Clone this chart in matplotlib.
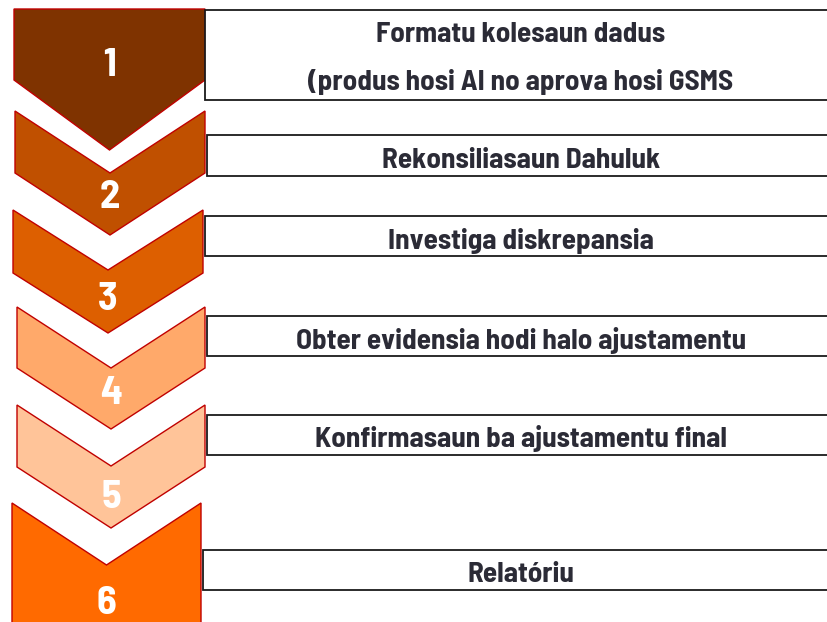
import matplotlib
matplotlib.use("Agg")
import matplotlib.pyplot as plt
from matplotlib.patches import Polygon, Rectangle

# step data
step_numbers = ["1", "2", "3", "4", "5", "6"]
step_texts = [
    "Formatu kolesaun dadus\n(produs hosi AI no aprova hosi GSMS",
    "Rekonsiliasaun Dahuluk",
    "Investiga diskrepansia",
    "Obter evidensia hodi halo ajustamentu",
    "Konfirmasaun ba ajustamentu final",
    "Relatóriu",
]
step_colors = ["#7f3300", "#c05000", "#dd5f00", "#ffa96a", "#ffc499", "#ff6a00"]

# layout (pixel coordinates)
chev_left = [14, 15, 13, 17, 17, 12]
chev_right = [205, 205, 203, 205, 205, 201]
chev_top = [9, 111, 210, 307, 405, 503]
chev_side = [80, 173, 273, 368, 467, 700]
chev_tip = [150, 235, 333, 429, 528, 700]
num_y = [66, 197, 300, 394, 497, 604]
box_left = [205, 207, 205, 207, 207, 203]
box_top = [10, 135, 216, 316, 415, 550]
box_bottom = [100, 176, 256, 356, 455, 590]
text_y = [[34, 82], [160], [241], [340], [439], [575]]

FONT = ["Barlow Semi Condensed", "Roboto Condensed", "DejaVu Sans"]

fig = plt.figure(figsize=(8.28, 6.22), dpi=100)
ax = fig.add_axes([0, 0, 1, 1])
ax.set_xlim(0, 828)
ax.set_ylim(622, 0)
ax.axis("off")

for i in range(len(step_numbers)):
    l, r = chev_left[i], chev_right[i]
    mid = (l + r) / 2
    t = chev_top[i]
    depth = chev_tip[i] - chev_side[i]
    if i == 0:
        # first step has a flat top
        pts = [(l, t), (r, t), (r, chev_side[i]), (mid, chev_tip[i]),
               (l, chev_side[i])]
    elif i == len(step_numbers) - 1:
        # last step runs off the bottom edge
        notch = t + 62
        pts = [(l, t), (mid, notch), (r, t), (r, chev_side[i]),
               (l, chev_side[i])]
    else:
        pts = [(l, t), (mid, t + depth), (r, t), (r, chev_side[i]),
               (mid, chev_tip[i]), (l, chev_side[i])]
    ax.add_patch(Polygon(pts, closed=True, facecolor=step_colors[i],
                         edgecolor="#c00000", linewidth=1.0, zorder=2))
    ax.text(mid, num_y[i], step_numbers[i], color="white", fontsize=29,
            fontweight="bold", family=FONT, ha="center", va="center",
            zorder=3)

    ax.add_patch(Rectangle((box_left[i], box_top[i]), 700,
                           box_bottom[i] - box_top[i], facecolor="white",
                           edgecolor="#1a1a1a", linewidth=1.3, zorder=2))
    lines = step_texts[i].split("\n")
    for line, y in zip(lines, text_y[i]):
        ax.text(521, y, line, color="#2b2b36", fontsize=21,
                fontweight="bold", family=FONT, ha="center", va="center",
                zorder=3)

fig.savefig("out.png", dpi=100)
